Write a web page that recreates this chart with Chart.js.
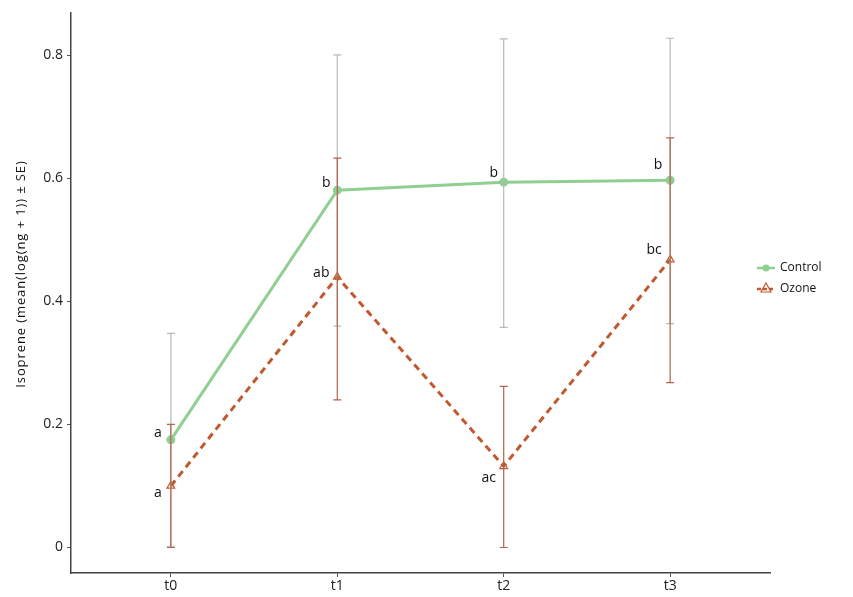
<!DOCTYPE html>
<html>
<head>
<meta charset="utf-8">
<script src="https://cdn.jsdelivr.net/npm/chart.js@4/dist/chart.umd.min.js"></script>
<style>
  html, body { margin: 0; padding: 0; background: #fff; }
  #wrap { width: 853px; height: 597px; position: relative; }
</style>
</head>
<body>
<div id="wrap"><canvas id="chart"></canvas></div>
<script>
const timepoints = ["t0", "t1", "t2", "t3"];
const yTicks = [0, 0.2, 0.4, 0.6, 0.8];
const yTitle = "Isoprene (mean(log(ng + 1)) ± SE)";

const controlMean = [0.175, 0.581, 0.594, 0.597];
const controlLow = [0.002, 0.36, 0.358, 0.364];
const controlHigh = [0.348, 0.801, 0.827, 0.828];
const controlLetters = ["a", "b", "b", "b"];

const ozoneMean = [0.10, 0.44, 0.132, 0.468];
const ozoneLow = [0.0, 0.24, 0.0, 0.268];
const ozoneHigh = [0.2, 0.633, 0.262, 0.666];
const ozoneLetters = ["a", "ab", "ac", "bc"];

const GREEN = "#8fcf91";
const GREEN_BAR = "#b4bcb4";
const RED = "#c2582f";
const RED_BAR = "#b0624a";
const FONT = "'Open Sans', 'Liberation Sans', sans-serif";

// label nudges in px relative to each point
const controlNudge = [[-13, -7], [-11, -7], [-10, -9], [-12, -15]];
const ozoneNudge = [[-13, 7], [-16, -4], [-15, 12], [-16, -10]];

const series = [
  { label: "Control", mean: controlMean, low: controlLow, high: controlHigh,
    letters: controlLetters, nudge: controlNudge, color: GREEN, bar: GREEN_BAR },
  { label: "Ozone", mean: ozoneMean, low: ozoneLow, high: ozoneHigh,
    letters: ozoneLetters, nudge: ozoneNudge, color: RED, bar: RED_BAR },
];

const extras = {
  id: "extras",
  afterDatasetsDraw(chart) {
    const { ctx, scales: { x, y } } = chart;
    ctx.save();
    // error bars
    series.forEach((s) => {
      ctx.strokeStyle = s.bar;
      ctx.lineWidth = 1.2;
      s.mean.forEach((_, i) => {
        const px = x.getPixelForValue(i);
        const top = y.getPixelForValue(s.high[i]);
        const bot = y.getPixelForValue(s.low[i]);
        ctx.beginPath();
        ctx.moveTo(px, top); ctx.lineTo(px, bot);
        ctx.moveTo(px - 4, top); ctx.lineTo(px + 4, top);
        ctx.moveTo(px - 4, bot); ctx.lineTo(px + 4, bot);
        ctx.stroke();
      });
    });
    // significance letters
    ctx.fillStyle = "#111";
    ctx.font = "14px " + FONT;
    ctx.textAlign = "center";
    ctx.textBaseline = "middle";
    series.forEach((s) => {
      s.letters.forEach((t, i) => {
        const px = x.getPixelForValue(i) + s.nudge[i][0];
        const py = y.getPixelForValue(s.mean[i]) + s.nudge[i][1];
        ctx.fillText(t, px, py);
      });
    });
    // y axis title (drawn by hand to get the wider spacing of the original)
    ctx.save();
    ctx.translate(21, 274);
    ctx.rotate(-Math.PI / 2);
    ctx.font = "13px " + FONT;
    ctx.letterSpacing = "0.9px";
    ctx.fillStyle = "#111";
    ctx.fillText(yTitle, 0, 0);
    ctx.restore();
    // legend
    ctx.font = "12px " + FONT;
    ctx.textAlign = "left";
    series.forEach((s, k) => {
      const ly = 268 + k * 21;
      ctx.strokeStyle = s.color;
      ctx.lineWidth = 2.5;
      ctx.setLineDash(k === 1 ? [4, 2] : []);
      ctx.beginPath(); ctx.moveTo(757, ly); ctx.lineTo(775, ly); ctx.stroke();
      ctx.setLineDash([]);
      if (k === 0) {
        ctx.fillStyle = s.color;
        ctx.beginPath(); ctx.arc(766, ly, 3.5, 0, Math.PI * 2); ctx.fill();
      } else {
        ctx.strokeStyle = s.color;
        ctx.lineWidth = 1.2;
        ctx.beginPath();
        ctx.moveTo(766, ly - 6); ctx.lineTo(771, ly + 3); ctx.lineTo(761, ly + 3); ctx.closePath();
        ctx.stroke();
      }
      ctx.fillStyle = "#111";
      ctx.fillText(s.label, 780, ly);
    });
    ctx.restore();
  },
};

new Chart(document.getElementById("chart"), {
  type: "line",
  data: {
    datasets: [
      {
        label: "Control",
        data: controlMean.map((v, i) => ({ x: i, y: v })),
        borderColor: GREEN,
        backgroundColor: GREEN,
        borderWidth: 3,
        pointRadius: 3,
        pointStyle: "circle",
        pointBackgroundColor: GREEN,
        pointBorderColor: GREEN,
        tension: 0,
      },
      {
        label: "Ozone",
        data: ozoneMean.map((v, i) => ({ x: i, y: v })),
        borderColor: RED,
        backgroundColor: "rgba(0,0,0,0)",
        borderWidth: 3,
        borderDash: [7, 5],
        pointRadius: 4.5,
        pointStyle: "triangle",
        pointBackgroundColor: "rgba(255,255,255,0)",
        pointBorderColor: RED,
        pointBorderWidth: 1.2,
        tension: 0,
      },
    ],
  },
  options: {
    responsive: true,
    maintainAspectRatio: false,
    animation: false,
    layout: { padding: { left: 0, top: 10, right: 83, bottom: 0 } },
    plugins: { legend: { display: false }, tooltip: { enabled: false } },
    scales: {
      x: {
        type: "linear",
        min: -0.6,
        max: 3.6,
        afterBuildTicks: (s) => { s.ticks = timepoints.map((_, i) => ({ value: i })); },
        afterFit: (s) => { s.height = 24; },
        ticks: {
          callback: (v) => timepoints[v],
          color: "#222",
          font: { family: FONT, size: 14 },
          padding: 1,
          maxRotation: 0,
        },
        grid: { drawOnChartArea: false, tickLength: 4, color: "#555" },
        border: { color: "#444", width: 1.5 },
      },
      y: {
        min: -0.0415,
        max: 0.87,
        afterBuildTicks: (s) => { s.ticks = yTicks.map((v) => ({ value: v })); },
        afterFit: (s) => { s.width = 71; },
        ticks: {
          callback: (v) => String(v),
          color: "#222",
          font: { family: FONT, size: 14 },
          padding: 4,
        },
        grid: { drawOnChartArea: false, tickLength: 4, color: "#555" },
        border: { color: "#444", width: 1.5 },
      },
    },
  },
  plugins: [extras],
});
</script>
</body>
</html>
